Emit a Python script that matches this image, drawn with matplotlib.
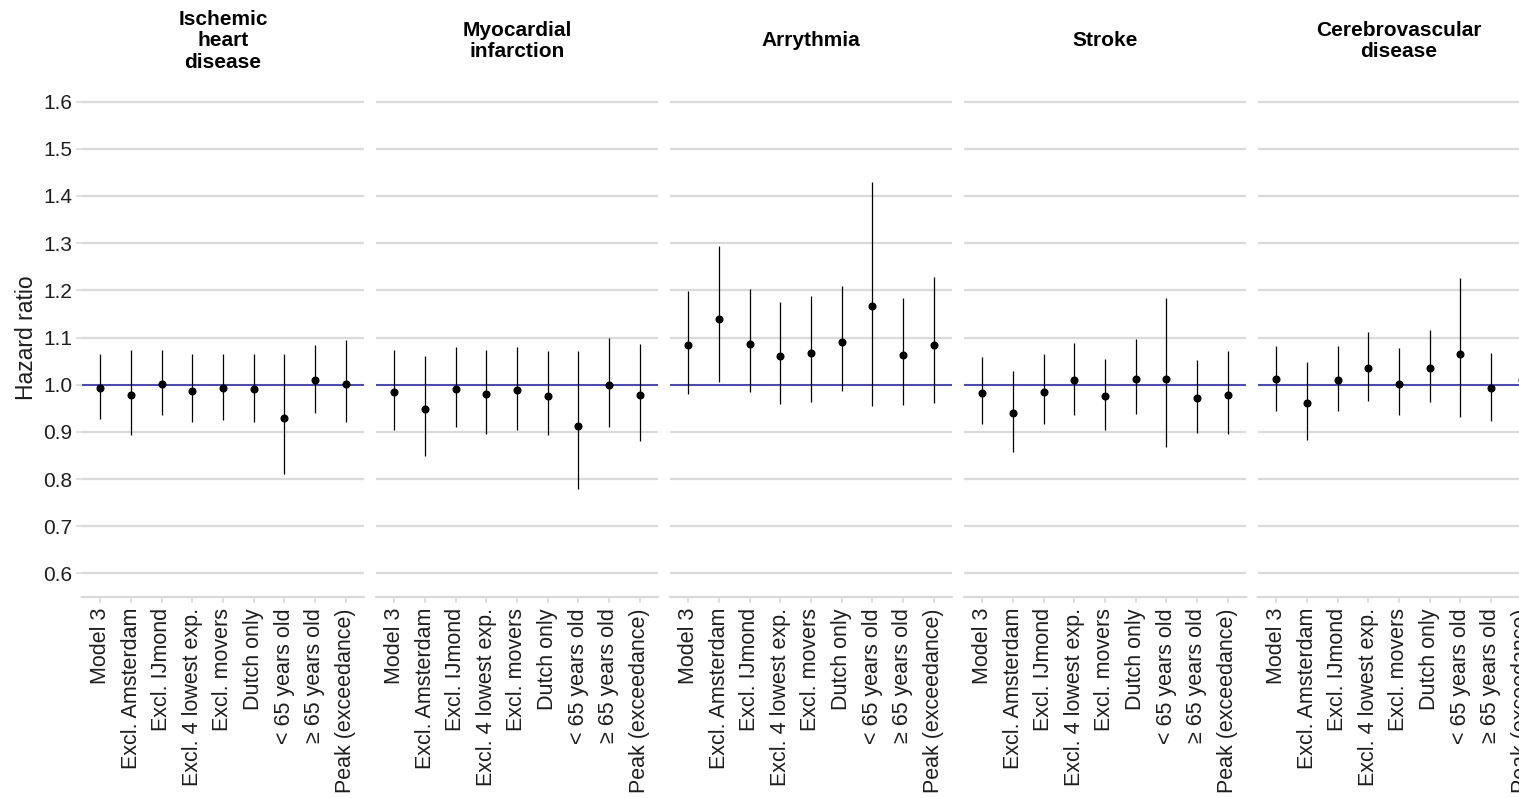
import numpy as np
import matplotlib
matplotlib.use("Agg")
import matplotlib.pyplot as plt

plt.rcParams['font.family'] = ['Liberation Sans', 'DejaVu Sans']

outcomes = ["Ischemic\nheart\ndisease", "Myocardial\ninfarction", "Arrythmia",
            "Stroke", "Cerebrovascular\ndisease"]
models = ["Model 3", "Excl. Amsterdam", "Excl. IJmond", "Excl. 4 lowest exp.",
          "Excl. movers", "Dutch only", "< 65 years old", "\u2265 65 years old",
          "Peak (exceedance)"]

# hazard ratios with 95% CI, one list per outcome
hr_ihd = [0.993, 0.978, 1.002, 0.987, 0.993, 0.990, 0.929, 1.009, 1.002]
lo_ihd = [0.928, 0.893, 0.935, 0.921, 0.925, 0.921, 0.811, 0.940, 0.921]
hi_ihd = [1.064, 1.073, 1.073, 1.064, 1.066, 1.066, 1.066, 1.085, 1.095]

hr_mi = [0.985, 0.948, 0.990, 0.981, 0.988, 0.976, 0.912, 1.000, 0.978]
lo_mi = [0.905, 0.848, 0.910, 0.896, 0.905, 0.893, 0.778, 0.910, 0.881]
hi_mi = [1.073, 1.061, 1.080, 1.073, 1.080, 1.071, 1.071, 1.099, 1.087]

hr_arr = [1.084, 1.140, 1.087, 1.061, 1.068, 1.091, 1.167, 1.063, 1.084]
lo_arr = [0.980, 1.006, 0.984, 0.958, 0.963, 0.987, 0.954, 0.956, 0.961]
hi_arr = [1.198, 1.294, 1.203, 1.176, 1.188, 1.209, 1.430, 1.184, 1.228]

hr_str = [0.983, 0.939, 0.985, 1.009, 0.976, 1.011, 1.011, 0.971, 0.978]
lo_str = [0.917, 0.857, 0.917, 0.935, 0.905, 0.938, 0.867, 0.898, 0.896]
hi_str = [1.059, 1.028, 1.064, 1.089, 1.054, 1.097, 1.183, 1.052, 1.071]

hr_cvd = [1.011, 0.962, 1.009, 1.035, 1.002, 1.035, 1.066, 0.993, 1.009]
lo_cvd = [0.945, 0.883, 0.945, 0.966, 0.935, 0.963, 0.931, 0.924, 0.940]
hi_cvd = [1.083, 1.049, 1.083, 1.111, 1.078, 1.116, 1.226, 1.068, 1.083]

hr = [hr_ihd, hr_mi, hr_arr, hr_str, hr_cvd]
lo = [lo_ihd, lo_mi, lo_arr, lo_str, lo_cvd]
hi = [hi_ihd, hi_mi, hi_arr, hi_str, hi_cvd]

W, H = 1519, 798
fig = plt.figure(figsize=(W / 100, H / 100), dpi=100)

grid_col = "#dadada"
txt_col = "#1e1e1e"
x = np.arange(len(models))

for i, name in enumerate(outcomes):
    left = 82 + i * 294
    ax = fig.add_axes([left / W, (H - 597) / H, 282 / W, (597 - 78) / H])
    ax.set_ylim(0.55, 1.65)
    ax.set_xlim(-0.6, len(models) - 0.4)
    ax.set_yticks(np.arange(0.6, 1.61, 0.1))
    ax.grid(axis='y', color=grid_col, lw=1.6)
    ax.set_axisbelow(True)
    for s in ["top", "right", "left"]:
        ax.spines[s].set_visible(False)
    ax.spines["bottom"].set_color(grid_col)
    ax.spines["bottom"].set_linewidth(1.6)

    ax.axhline(1.0, color="#22229e", lw=1.1, zorder=2)
    h = np.array(hr[i])
    ax.vlines(x, lo[i], hi[i], color="black", lw=0.9, zorder=3)
    ax.plot(x, h, 'o', color="black", ms=4.8, zorder=4)

    ax.set_xticks(x)
    ax.set_xticklabels(models, rotation=90, fontsize=15.5, color=txt_col)
    ax.tick_params(axis='x', length=4, width=1.2, color=grid_col, pad=4)
    if i == 0:
        ax.set_yticklabels(["%.1f" % v for v in np.arange(0.6, 1.61, 0.1)],
                           fontsize=15, color=txt_col)
        ax.tick_params(axis='y', length=4, width=1.2, color=grid_col, pad=3)
        ax.set_ylabel("Hazard ratio", fontsize=16.5, color=txt_col, labelpad=4)
    else:
        ax.tick_params(axis='y', left=False, labelleft=False)

    fig.text((left + 141) / W, 1 - 41 / H, name, ha='center', va='center',
             fontsize=15, fontweight='bold', linespacing=1.18, color="black")

fig.savefig("out.png", dpi=100)
